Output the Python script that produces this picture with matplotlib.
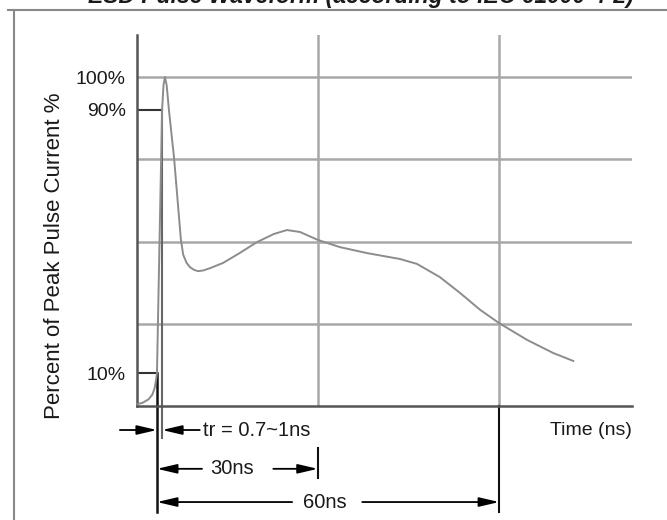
import matplotlib
matplotlib.use("Agg")
import matplotlib.pyplot as plt

plt.rcParams['font.family'] = ['Liberation Sans', 'DejaVu Sans']

# waveform (t in ns from the 10% point, current in % of peak)
tiempo_ns = [-3.5, -2.5, -1.5, -0.8, -0.4, -0.15, 0.0, 0.45, 0.9, 1.15, 1.4, 1.7, 2.1, 3.0,
             4.2, 4.6, 5.2, 5.8, 6.5, 7.2, 8.1, 9.3, 11.6, 14.5, 17.5, 20.5, 22.8, 25.1,
             28.2, 32.1, 36.8, 42.6, 45.6, 49.6, 53.2, 56.7, 60.0, 64.9, 69.5, 73.0]
corriente_pct = [0.5, 1.0, 2.0, 3.5, 5.5, 8.0, 10.0, 50.0, 90.0, 97.6, 100.0, 97.6, 90.0, 75.4,
                 50.5, 46.0, 43.5, 42.2, 41.4, 41.0, 41.2, 41.9, 43.5, 46.5, 49.8, 52.3, 53.5, 52.9,
                 50.5, 48.3, 46.5, 44.7, 43.2, 39.2, 34.3, 29.2, 25.2, 20.1, 16.1, 13.7]

grid_pct = [25, 50, 75, 100]
grid_ns = [28.2, 60.0]
etiquetas_y = [100, 90, 10]
t_10 = 0.0
t_90 = 0.9

fig = plt.figure(figsize=(6.67, 5.2), dpi=100)
ax = fig.add_axes([137 / 667, 114 / 520, 495 / 667, 371 / 520])
ax.set_xlim(-3.5, 83.3)
ax.set_ylim(0, 112.8)
for s in ['top', 'right']:
    ax.spines[s].set_visible(False)
for s in ['left', 'bottom']:
    ax.spines[s].set_color('#555555')
    ax.spines[s].set_linewidth(1.8)
ax.set_xticks([])
ax.set_yticks(etiquetas_y)
ax.set_yticklabels([f"{v}%" for v in etiquetas_y], fontsize=14, color='#1a1a1a')
ax.tick_params(axis='y', length=0, pad=8)

# rejilla
for p in grid_pct:
    ax.axhline(p, color='#a8a8a8', lw=1.8, zorder=1)
for t in grid_ns:
    ax.axvline(t, color='#a8a8a8', lw=1.8, zorder=1)

# marcas de 90% y 10%
ax.plot([-3.5, t_90], [90, 90], color='#333333', lw=1.5, zorder=2)
ax.plot([t_90, t_90], [90, -9.7], color='#666666', lw=1.5, zorder=2, clip_on=False)
ax.plot([-3.5, t_10], [10, 10], color='#333333', lw=1.5, zorder=2)
ax.plot([t_10, t_10], [10, -32.2], color='#111111', lw=1.8, zorder=2, clip_on=False)

ax.plot(tiempo_ns, corriente_pct, color='#8c8c8c', lw=1.4, zorder=3)

fig.text(55 / 667, 1 - 256 / 520, "Percent of Peak Pulse Current %", fontsize=16,
         rotation=90, ha='center', va='center', color='#1a1a1a')
ax.text(83.3, -7.3, "Time (ns)", fontsize=14, ha='right', va='center', color='#1a1a1a')

def flecha(x0, x1, y):
    ax.annotate('', xy=(x1, y), xytext=(x0, y), annotation_clip=False,
                arrowprops=dict(arrowstyle='-|>,head_length=12,head_width=2.8',
                                mutation_scale=1, color='black', lw=1.3,
                                shrinkA=0, shrinkB=0))

# tr
y_tr = -7.3
flecha(-6.5, t_10, y_tr)
flecha(7.5, t_90, y_tr)
ax.text(8.1, y_tr - 0.3, "tr = 0.7~1ns", fontsize=14.5, ha='left', va='center', color='#1a1a1a')

# 30ns
y_30 = -19.1
flecha(7.9, t_10, y_30)
flecha(20.4, grid_ns[0], y_30)
ax.text(13.1, y_30, "30ns", fontsize=14.5, ha='center', va='center', color='#1a1a1a')
ax.plot([grid_ns[0], grid_ns[0]], [-12.8, -21.9], color='#111111', lw=1.5, clip_on=False)

# 60ns
y_60 = -29.2
flecha(23.7, t_10, y_60)
flecha(36.0, grid_ns[1], y_60)
ax.text(29.5, y_60, "60ns", fontsize=14.5, ha='center', va='center', color='#1a1a1a')
ax.plot([grid_ns[1], grid_ns[1]], [0, -32.2], color='#111111', lw=1.5, clip_on=False)

# marco y titulo cortado
fig.add_artist(plt.Line2D([8 / 667, 1], [1 - 10 / 520] * 2, color='#888888', lw=1.5))
fig.add_artist(plt.Line2D([14 / 667] * 2, [0, 1 - 10 / 520], color='#888888', lw=1.5))
fig.text(361 / 667, 1 - 3.5 / 520, "ESD Pulse Waveform (according to IEC 61000-4-2)",
         fontsize=16.5, fontweight='bold', fontstyle='italic', ha='center', va='baseline',
         color='#1a1a1a')

fig.savefig("out.png", dpi=100)
